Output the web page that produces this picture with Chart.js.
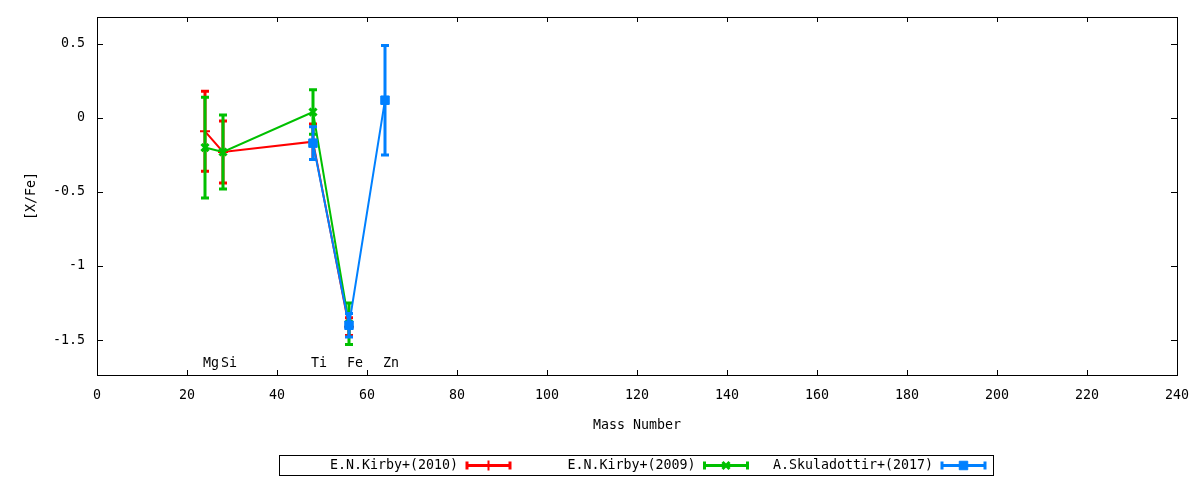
<!DOCTYPE html>
<html>
<head>
<meta charset="utf-8">
<script src="https://cdn.jsdelivr.net/npm/chart.js@4/dist/chart.umd.min.js"></script>
<style>
  body { margin: 0; background: #fff; }
</style>
</head>
<body>
<canvas id="chart" width="1200" height="480"></canvas>
<script>
// element labels and their mass numbers
const elements = ['Mg', 'Si', 'Ti', 'Fe', 'Zn'];
const massNumbers = [24, 28, 48, 56, 64];
const labelLevel = -1.66;

// [X/Fe] and errors (null = no measurement)
const kirby2010 = [-0.09, -0.23, -0.16, -1.41, null];
const kirby2010Err = [0.27, 0.21, 0.12, 0.06, null];
const kirby2009 = [-0.20, -0.23, 0.04, -1.39, null];
const kirby2009Err = [0.34, 0.25, 0.15, 0.14, null];
const skula2017 = [null, null, -0.17, -1.40, 0.12];
const skula2017Err = [null, null, 0.11, 0.08, 0.37];

const xTicks = [0, 20, 40, 60, 80, 100, 120, 140, 160, 180, 200, 220, 240];
const yTicks = [-1.5, -1, -0.5, 0, 0.5];

const FONT = "'DejaVu Sans Mono', monospace";
const FONT_SIZE = 13.3;

function createDataset(label, color, values, errors, pointStyle, radius, width, order) {
  let data = [];
  values.forEach((v, i) => {
    if (v == null) {
      return;
    }
    data.push({ x: massNumbers[i], y: v, err: errors[i] });
  });
  return {
    label: label,
    data: data,
    borderColor: color,
    backgroundColor: color,
    borderWidth: 2,
    pointStyle: pointStyle,
    pointRadius: radius,
    pointBorderWidth: width,
    pointBackgroundColor: color,
    pointBorderColor: color,
    tension: 0,
    order: order
  };
}

const errorBars = {
  id: 'errorBars',
  beforeDatasetDraw(chart, args) {
    let ds = chart.data.datasets[args.index];
    let xs = chart.scales.x, ys = chart.scales.y;
    let ctx = chart.ctx;
    ctx.save();
    ctx.strokeStyle = ds.borderColor;
    ctx.lineWidth = 3;
    ds.data.forEach((p) => {
      let x = xs.getPixelForValue(p.x);
      let top = ys.getPixelForValue(p.y + p.err);
      let bot = ys.getPixelForValue(p.y - p.err);
      ctx.beginPath();
      ctx.moveTo(x, top); ctx.lineTo(x, bot);
      ctx.moveTo(x - 4, top); ctx.lineTo(x + 4, top);
      ctx.moveTo(x - 4, bot); ctx.lineTo(x + 4, bot);
      ctx.stroke();
    });
    ctx.restore();
  }
};

// gnuplot style frame with inward mirrored ticks, plus element names
const frame = {
  id: 'frame',
  afterDatasetsDraw(chart) {
    let { left, right, top, bottom } = chart.chartArea;
    let xs = chart.scales.x, ys = chart.scales.y;
    let ctx = chart.ctx;
    ctx.save();
    ctx.strokeStyle = '#000';
    ctx.lineWidth = 1;
    ctx.beginPath();
    xTicks.forEach((v) => {
      let x = Math.round(xs.getPixelForValue(v)) + 0.5;
      ctx.moveTo(x, bottom); ctx.lineTo(x, bottom - 5);
      ctx.moveTo(x, top); ctx.lineTo(x, top + 5);
    });
    yTicks.forEach((v) => {
      let y = Math.round(ys.getPixelForValue(v)) + 0.5;
      ctx.moveTo(left, y); ctx.lineTo(left + 6, y);
      ctx.moveTo(right, y); ctx.lineTo(right - 6, y);
    });
    ctx.stroke();
    ctx.strokeRect(Math.round(left) + 0.5, Math.round(top) + 0.5,
      Math.round(right - left), Math.round(bottom - top));

    ctx.fillStyle = '#000';
    ctx.font = FONT_SIZE + 'px ' + FONT;
    ctx.textAlign = 'left';
    ctx.textBaseline = 'middle';
    elements.forEach((el, i) => {
      ctx.fillText(el, xs.getPixelForValue(massNumbers[i]) - 2, ys.getPixelForValue(labelLevel));
    });
    ctx.restore();
  }
};

const boxLegend = {
  id: 'boxLegend',
  afterDraw(chart) {
    let ctx = chart.ctx;
    ctx.save();
    ctx.strokeStyle = '#000';
    ctx.lineWidth = 1;
    ctx.strokeRect(279.5, 455.5, 714, 20);
    ctx.font = FONT_SIZE + 'px ' + FONT;
    ctx.textAlign = 'right';
    ctx.textBaseline = 'middle';
    chart.data.datasets.forEach((ds, i) => {
      let textRight = 458 + 237.5 * i;
      let sx = textRight + 9;
      let y = 465.5;
      ctx.fillStyle = '#000';
      ctx.fillText(ds.label, textRight, y + 0.5);
      ctx.strokeStyle = ds.borderColor;
      ctx.fillStyle = ds.borderColor;
      ctx.lineWidth = 3;
      ctx.beginPath();
      ctx.moveTo(sx, y); ctx.lineTo(sx + 43, y);
      ctx.moveTo(sx, y - 4); ctx.lineTo(sx, y + 4);
      ctx.moveTo(sx + 43, y - 4); ctx.lineTo(sx + 43, y + 4);
      ctx.stroke();
      if (Chart.helpers && Chart.helpers.drawPoint) {
        ctx.lineWidth = ds.pointBorderWidth;
        Chart.helpers.drawPoint(ctx, {
          pointStyle: ds.pointStyle,
          radius: ds.pointRadius,
          borderWidth: ds.pointBorderWidth,
          rotation: 0
        }, sx + 21.5, y);
      }
    });
    ctx.restore();
  }
};

let datasets = [];
datasets.push(createDataset('E.N.Kirby+(2010)', '#ff0000', kirby2010, kirby2010Err, 'cross', 5, 2, 2));
datasets.push(createDataset('E.N.Kirby+(2009)', '#00c000', kirby2009, kirby2009Err, 'crossRot', 5, 3, 1));
datasets.push(createDataset('A.Skuladottir+(2017)', '#0080ff', skula2017, skula2017Err, 'rect', 6, 1, 0));

let ctx = document.getElementById('chart').getContext('2d');
let chart = new Chart(ctx, {
  type: 'line',
  data: { datasets: datasets },
  plugins: [errorBars, frame, boxLegend],
  options: {
    responsive: false,
    animation: false,
    layout: { padding: { left: 0, top: 17, right: 23, bottom: 0 } },
    scales: {
      x: {
        type: 'linear',
        min: 0,
        max: 240,
        afterBuildTicks: (scale) => { scale.ticks = xTicks.map((v) => ({ value: v })); },
        afterFit: (scale) => {
          scale.height = 105;
          scale.paddingLeft = 0;
          scale.paddingRight = 0;
        },
        grid: { display: false, drawTicks: false },
        border: { display: false },
        ticks: {
          padding: 13,
          color: '#000',
          maxRotation: 0,
          autoSkip: false,
          font: { family: FONT, size: FONT_SIZE },
          callback: (value) => `${value}`
        },
        title: {
          display: true,
          text: 'Mass Number',
          color: '#000',
          font: { family: FONT, size: FONT_SIZE },
          padding: { top: 0, bottom: 46 }
        }
      },
      y: {
        type: 'linear',
        min: -1.736,
        max: 0.682,
        afterBuildTicks: (scale) => { scale.ticks = yTicks.map((v) => ({ value: v })); },
        afterFit: (scale) => {
          scale.width = 97;
          scale.paddingTop = 0;
          scale.paddingBottom = 0;
        },
        grid: { display: false, drawTicks: false },
        border: { display: false },
        ticks: {
          padding: 12,
          color: '#000',
          font: { family: FONT, size: FONT_SIZE },
          callback: (value) => `${value}`
        },
        title: {
          display: true,
          text: '[X/Fe]',
          color: '#000',
          font: { family: FONT, size: FONT_SIZE },
          padding: { top: 24, bottom: 0 }
        }
      }
    },
    plugins: {
      legend: { display: false },
      tooltip: { enabled: false }
    }
  }
});
</script>
</body>
</html>
